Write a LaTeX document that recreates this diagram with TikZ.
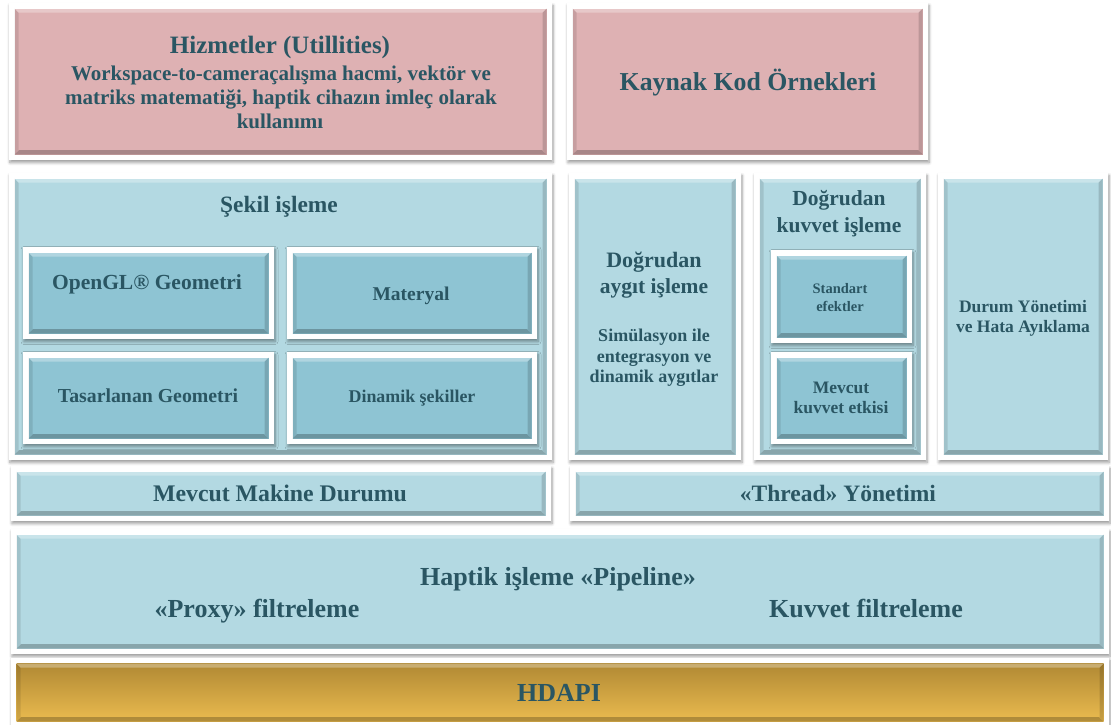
\documentclass[tikz,border=0pt]{standalone}
\usepackage{fontspec}
\setmainfont{Liberation Serif}
\usetikzlibrary{shadows.blur,fit}
\definecolor{pinkc}{HTML}{DEB1B3}
\definecolor{bluec}{HTML}{B3D9E2}
\definecolor{subc}{HTML}{8EC4D3}
\definecolor{goldtop}{HTML}{B08934}
\definecolor{goldbot}{HTML}{EBBB4F}
\definecolor{txt}{HTML}{2A5663}
\newcommand\fsz[1]{\fontsize{#1}{#1}\selectfont\bfseries}
\tikzset{
  frame/.style={fill=white, inner sep=0pt, outer sep=0pt,
    blur shadow={shadow blur steps=6, shadow xshift=1pt, shadow yshift=-2.5pt, shadow opacity=40, shadow blur radius=3pt}},
  bevel/.style={inner sep=0pt, outer sep=0pt, path picture={
    \fill[black,opacity=0.24] (path picture bounding box.south west) -- (path picture bounding box.south east)
      -- ([shift={(-4.5pt,4.5pt)}]path picture bounding box.south east) -- ([shift={(4.5pt,4.5pt)}]path picture bounding box.south west) -- cycle;
    \fill[black,opacity=0.10] (path picture bounding box.south west) -- (path picture bounding box.north west)
      -- ([shift={(4pt,-4pt)}]path picture bounding box.north west) -- ([shift={(4pt,4.5pt)}]path picture bounding box.south west) -- cycle;
    \fill[black,opacity=0.15] (path picture bounding box.south east) -- (path picture bounding box.north east)
      -- ([shift={(-4pt,-4pt)}]path picture bounding box.north east) -- ([shift={(-4pt,4.5pt)}]path picture bounding box.south east) -- cycle;
    \fill[white,opacity=0.30] (path picture bounding box.north west) -- (path picture bounding box.north east)
      -- ([shift={(-4pt,-4pt)}]path picture bounding box.north east) -- ([shift={(4pt,-4pt)}]path picture bounding box.north west) -- cycle;
  }},
  pinkbox/.style={bevel, fill=pinkc},
  bluebox/.style={bevel, fill=bluec},
  subbox/.style={bevel, fill=subc},
  goldbox/.style={bevel, top color=goldtop, bottom color=goldbot},
  lbl/.style={text=txt, anchor=base, inner sep=0pt},
}
\newcommand\panel[6]{%
  \node[frame, fit={(#2,#3) (#4,#5)}] (#1f) {};
  \node[#6, fit={(#2+5.5,#3+5.5) (#4-5.5,#5-5.5)}] (#1) {};}
\begin{document}
\begin{tikzpicture}[x=1pt,y=-1pt]
\useasboundingbox (0,0) rectangle (1111,724);
% top row
\panel{hiz}{9}{3}{552}{160}{pinkbox}
\panel{kay}{567}{3}{928}{160}{pinkbox}
% middle row
\panel{sek}{9}{173}{552}{460}{bluebox}
\panel{ogl}{23}{247}{274}{339}{subbox}
\panel{mat}{287}{247}{537}{339}{subbox}
\panel{tas}{23}{352}{274}{444}{subbox}
\panel{din}{287}{352}{537}{444}{subbox}
\panel{dag}{569}{173}{741}{460}{bluebox}
\panel{dkv}{754}{173}{926}{460}{bluebox}
\panel{std}{771}{250}{912}{343}{subbox}
\panel{mkv}{771}{352}{912}{444}{subbox}
\panel{dur}{938}{173}{1108}{460}{bluebox}
% lower rows
\panel{mmd}{11}{466}{551}{521}{bluebox}
\panel{thr}{570}{466}{1109}{521}{bluebox}
\panel{hap}{11}{529}{1109}{654}{bluebox}
\panel{hda}{11}{658}{1109}{727}{goldbox}
% texts
\node[lbl, font=\fsz{25}] (t1) at (280,53) {Hizmetler (Utillities)};
\node[lbl, font=\fsz{21}] (t2) at (281,80) {Workspace-to-cameraçalışma hacmi, vektör ve};
\node[lbl, font=\fsz{21}] (t3) at (281,104) {matriks matematiği, haptik cihazın imleç olarak};
\node[lbl, font=\fsz{21}] (t4) at (280,128) {kullanımı};
\node[lbl, font=\fsz{25.8}] (t5) at (748,90) {Kaynak Kod Örnekleri};
\node[lbl, font=\fsz{23.4}] (t6) at (279,212) {Şekil işleme};
\node[lbl, font=\fsz{21.5}] (t7) at (147,289) {OpenGL® Geometri};
\node[lbl, font=\fsz{19.5}] (t8) at (411,300) {Materyal};
\node[lbl, font=\fsz{19.8}] (t9) at (148,402) {Tasarlanan Geometri};
\node[lbl, font=\fsz{17.9}] (t10) at (412,402) {Dinamik şekiller};
\node[lbl, font=\fsz{22}] (t11) at (654,267) {Doğrudan};
\node[lbl, font=\fsz{21.5}] (t12) at (654,293) {aygıt işleme};
\node[lbl, font=\fsz{18}] (t13) at (654,341) {Simülasyon ile};
\node[lbl, font=\fsz{18}] (t14) at (654,362) {entegrasyon ve};
\node[lbl, font=\fsz{18}] (t15) at (654,382) {dinamik aygıtlar};
\node[lbl, font=\fsz{21.5}] (t16) at (839,205) {Doğrudan};
\node[lbl, font=\fsz{21.5}] (t17) at (839,232) {kuvvet işleme};
\node[lbl, font=\fsz{14.5}] (t18) at (840,293) {Standart};
\node[lbl, font=\fsz{14.5}] (t19) at (840,311) {efektler};
\node[lbl, font=\fsz{17.5}] (t20) at (841,393) {Mevcut};
\node[lbl, font=\fsz{17.5}] (t21) at (841,413) {kuvvet etkisi};
\node[lbl, font=\fsz{17.5}] (t22) at (1023,312) {Durum Yönetimi};
\node[lbl, font=\fsz{17.5}] (t23) at (1023,332) {ve Hata Ayıklama};
\node[lbl, font=\fsz{23.8}] (t24) at (280,501) {Mevcut Makine Durumu};
\node[lbl, font=\fsz{23.5}] (t25) at (838,501) {«Thread» Yönetimi};
\node[lbl, font=\fsz{26}] (t26) at (558,585) {Haptik işleme «Pipeline»};
\node[lbl, font=\fsz{26}] (t27) at (257,617) {«Proxy» filtreleme};
\node[lbl, font=\fsz{26}] (t28) at (866,617) {Kuvvet filtreleme};
\node[lbl, font=\fsz{26}] (t29) at (559,701) {HDAPI};
\end{tikzpicture}
\end{document}
